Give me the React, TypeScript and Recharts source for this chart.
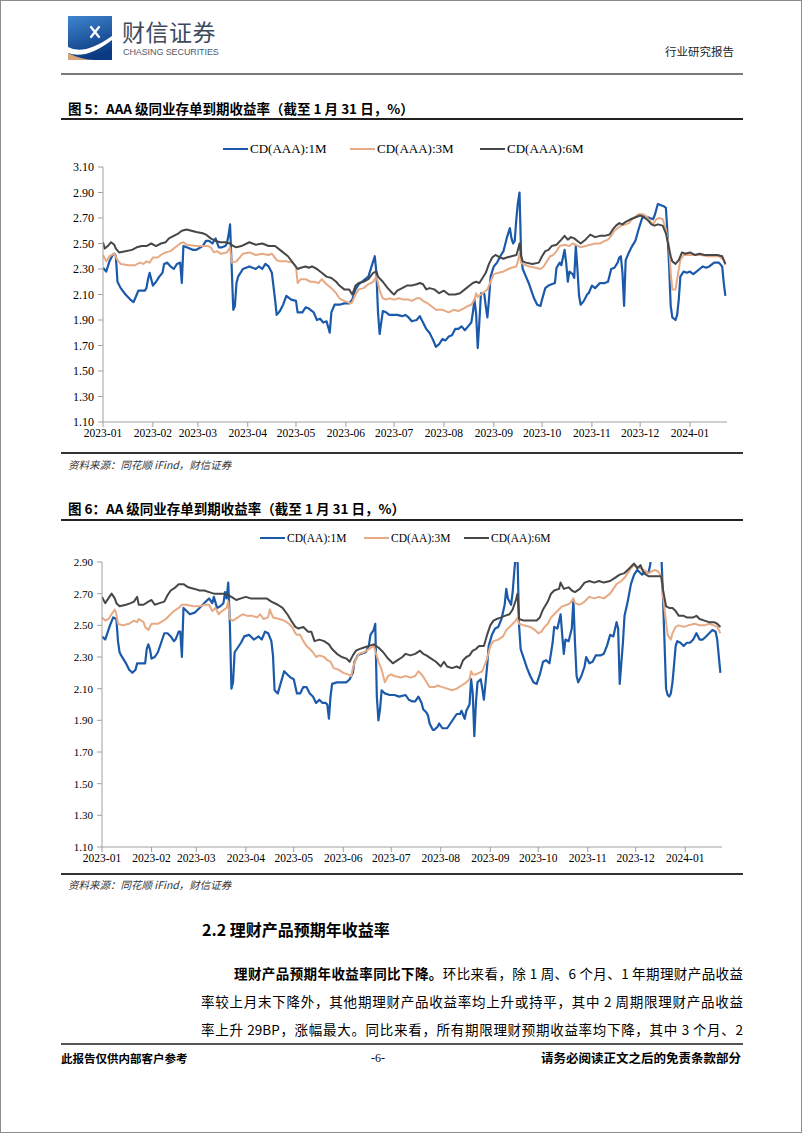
import React from 'react';
import { LineChart, Line, XAxis, YAxis } from 'recharts';

// ---------- axis data ----------
const MONTH_TICKS = [0, 31, 59, 90, 120, 151, 181, 212, 243, 273, 304, 334, 365];
const MONTH_LABELS = ['2023-01', '2023-02', '2023-03', '2023-04', '2023-05', '2023-06', '2023-07', '2023-08', '2023-09', '2023-10', '2023-11', '2023-12', '2024-01'];
const Y_TICKS_AAA = [1.1, 1.3, 1.5, 1.7, 1.9, 2.1, 2.3, 2.5, 2.7, 2.9, 3.1];
const Y_TICKS_AA = [1.1, 1.3, 1.5, 1.7, 1.9, 2.1, 2.3, 2.5, 2.7, 2.9];

// ---------- series: [day offset from 2023-01-01, yield %] ----------
const AAA_1M: [number, number][] = [
  [0, 2.31], [2, 2.28], [4, 2.36], [6, 2.41], [7, 2.42], [8, 2.40], [9, 2.20], [11, 2.15], [14, 2.10], [17, 2.06], [19, 2.04], [21, 2.10], [22, 2.13], [26, 2.13], [27, 2.15], [28, 2.22], [29, 2.27], [30, 2.22], [31, 2.17], [33, 2.20], [35, 2.24], [37, 2.27], [38, 2.34], [40, 2.35], [42, 2.32], [44, 2.30], [46, 2.34], [48, 2.35], [49, 2.19], [50, 2.48], [52, 2.47], [56, 2.45], [58, 2.45], [62, 2.48], [64, 2.52], [66, 2.52], [68, 2.50], [70, 2.54], [72, 2.47], [74, 2.47], [76, 2.48], [77, 2.50], [78, 2.56], [79, 2.65], [80, 2.32], [81, 1.98], [82, 2.01], [83, 2.19], [84, 2.24], [87, 2.30], [91, 2.32], [95, 2.30], [97, 2.32], [99, 2.30], [101, 2.34], [103, 2.32], [105, 2.27], [107, 2.06], [108, 1.94], [110, 1.97], [112, 2.02], [114, 2.09], [117, 2.06], [120, 2.05], [121, 1.96], [124, 1.96], [126, 2.00], [128, 1.99], [131, 1.96], [133, 1.90], [135, 1.91], [137, 1.88], [139, 1.89], [141, 1.80], [142, 1.96], [144, 2.02], [147, 2.02], [150, 2.03], [153, 2.03], [155, 2.06], [157, 2.14], [159, 2.18], [161, 2.20], [163, 2.22], [165, 2.24], [167, 2.32], [168, 2.36], [169, 2.40], [170, 2.27], [171, 1.96], [172, 1.79], [173, 1.88], [174, 1.97], [176, 1.96], [178, 1.94], [180, 1.94], [183, 1.94], [186, 1.93], [188, 1.94], [190, 1.92], [192, 1.89], [195, 1.90], [197, 1.93], [199, 1.88], [201, 1.83], [203, 1.80], [205, 1.75], [207, 1.69], [209, 1.71], [211, 1.75], [213, 1.74], [215, 1.77], [217, 1.78], [219, 1.83], [221, 1.83], [223, 1.85], [225, 1.82], [227, 1.85], [229, 1.88], [230, 1.96], [231, 2.06], [232, 1.95], [233, 1.68], [234, 1.88], [235, 2.11], [237, 2.11], [238, 2.01], [239, 1.92], [240, 2.06], [241, 2.24], [243, 2.32], [245, 2.35], [247, 2.40], [249, 2.44], [251, 2.54], [253, 2.62], [254, 2.54], [255, 2.50], [256, 2.52], [257, 2.69], [258, 2.82], [259, 2.90], [260, 2.40], [261, 2.30], [262, 2.27], [265, 2.18], [268, 2.07], [270, 2.02], [272, 2.01], [273, 2.06], [275, 2.15], [277, 2.17], [279, 2.18], [281, 2.19], [282, 2.31], [284, 2.35], [285, 2.33], [287, 2.45], [288, 2.35], [289, 2.20], [290, 2.28], [292, 2.26], [293, 2.23], [294, 2.48], [295, 2.30], [296, 2.09], [297, 2.02], [299, 2.05], [301, 2.10], [302, 2.11], [304, 2.17], [306, 2.15], [309, 2.19], [312, 2.19], [314, 2.20], [316, 2.30], [318, 2.31], [320, 2.35], [321, 2.39], [322, 2.40], [323, 2.27], [324, 2.01], [325, 2.37], [327, 2.43], [329, 2.48], [331, 2.52], [333, 2.61], [335, 2.69], [336, 2.72], [338, 2.71], [340, 2.70], [342, 2.69], [343, 2.72], [345, 2.81], [347, 2.80], [349, 2.79], [350, 2.78], [351, 2.58], [352, 2.32], [353, 2.01], [354, 1.92], [356, 1.90], [357, 1.94], [358, 2.06], [359, 2.24], [361, 2.28], [363, 2.27], [365, 2.28], [367, 2.26], [369, 2.28], [371, 2.30], [373, 2.32], [375, 2.31], [377, 2.32], [380, 2.35], [383, 2.35], [385, 2.32], [386, 2.19], [387, 2.09],
];
const AAA_3M: [number, number][] = [
  [0, 2.41], [2, 2.36], [4, 2.40], [7, 2.42], [9, 2.37], [11, 2.34], [16, 2.33], [20, 2.33], [23, 2.35], [25, 2.34], [27, 2.36], [29, 2.35], [31, 2.39], [34, 2.39], [36, 2.41], [39, 2.43], [42, 2.44], [45, 2.47], [48, 2.50], [50, 2.51], [52, 2.49], [58, 2.48], [62, 2.48], [65, 2.48], [67, 2.47], [69, 2.43], [71, 2.44], [73, 2.42], [77, 2.43], [79, 2.47], [80, 2.35], [83, 2.36], [87, 2.42], [91, 2.43], [95, 2.41], [99, 2.42], [103, 2.41], [105, 2.42], [108, 2.37], [110, 2.36], [114, 2.36], [118, 2.35], [120, 2.32], [121, 2.19], [123, 2.22], [126, 2.22], [129, 2.20], [131, 2.20], [134, 2.19], [136, 2.22], [139, 2.18], [142, 2.15], [145, 2.11], [147, 2.07], [150, 2.05], [154, 2.03], [155, 2.04], [157, 2.10], [159, 2.14], [162, 2.15], [165, 2.18], [168, 2.20], [170, 2.24], [171, 2.19], [172, 2.13], [174, 2.07], [176, 2.06], [178, 2.07], [181, 2.06], [184, 2.07], [187, 2.06], [190, 2.06], [192, 2.05], [195, 2.07], [197, 2.07], [199, 2.05], [202, 2.03], [204, 2.01], [207, 1.98], [211, 1.98], [213, 1.97], [215, 1.96], [218, 1.98], [221, 1.97], [224, 1.99], [227, 2.01], [229, 2.02], [231, 2.06], [232, 2.11], [233, 2.08], [235, 2.10], [238, 2.13], [239, 2.14], [241, 2.20], [243, 2.26], [246, 2.27], [249, 2.28], [252, 2.30], [254, 2.31], [257, 2.32], [258, 2.36], [259, 2.42], [260, 2.35], [261, 2.34], [265, 2.32], [269, 2.31], [272, 2.30], [274, 2.32], [276, 2.36], [278, 2.40], [280, 2.41], [282, 2.44], [284, 2.48], [287, 2.49], [290, 2.48], [292, 2.50], [294, 2.49], [297, 2.47], [300, 2.48], [303, 2.49], [306, 2.50], [309, 2.50], [312, 2.52], [314, 2.53], [316, 2.56], [318, 2.60], [320, 2.62], [322, 2.64], [325, 2.65], [327, 2.66], [329, 2.69], [331, 2.71], [333, 2.73], [336, 2.73], [338, 2.71], [340, 2.68], [342, 2.65], [344, 2.69], [346, 2.70], [348, 2.69], [350, 2.61], [352, 2.48], [353, 2.27], [354, 2.14], [356, 2.14], [357, 2.22], [359, 2.37], [361, 2.41], [364, 2.41], [368, 2.41], [372, 2.41], [376, 2.40], [380, 2.40], [383, 2.40], [385, 2.38], [386, 2.37], [387, 2.33],
];
const AAA_6M: [number, number][] = [
  [0, 2.51], [1, 2.46], [3, 2.48], [5, 2.51], [7, 2.49], [8, 2.46], [10, 2.43], [14, 2.44], [18, 2.45], [21, 2.47], [24, 2.48], [27, 2.48], [30, 2.50], [33, 2.48], [36, 2.50], [39, 2.51], [41, 2.54], [44, 2.56], [47, 2.58], [49, 2.60], [52, 2.61], [55, 2.60], [58, 2.59], [62, 2.58], [64, 2.57], [67, 2.54], [70, 2.52], [73, 2.51], [76, 2.51], [79, 2.50], [81, 2.48], [83, 2.47], [86, 2.48], [91, 2.51], [95, 2.49], [99, 2.50], [103, 2.48], [107, 2.48], [111, 2.44], [115, 2.40], [118, 2.35], [121, 2.30], [123, 2.31], [126, 2.32], [128, 2.31], [130, 2.32], [133, 2.30], [136, 2.27], [139, 2.24], [142, 2.23], [145, 2.20], [147, 2.17], [150, 2.14], [153, 2.14], [155, 2.10], [157, 2.17], [159, 2.19], [162, 2.20], [165, 2.22], [168, 2.27], [170, 2.28], [171, 2.24], [174, 2.20], [177, 2.15], [180, 2.11], [181, 2.10], [183, 2.13], [186, 2.15], [189, 2.17], [192, 2.17], [195, 2.18], [197, 2.19], [199, 2.18], [201, 2.14], [203, 2.15], [206, 2.14], [209, 2.11], [212, 2.13], [215, 2.10], [219, 2.10], [222, 2.11], [225, 2.14], [228, 2.17], [230, 2.19], [232, 2.20], [234, 2.19], [236, 2.23], [238, 2.27], [240, 2.34], [242, 2.39], [244, 2.41], [247, 2.39], [249, 2.38], [251, 2.39], [254, 2.40], [257, 2.41], [258, 2.45], [259, 2.50], [260, 2.40], [261, 2.36], [263, 2.35], [267, 2.34], [271, 2.35], [273, 2.40], [275, 2.44], [277, 2.45], [279, 2.48], [282, 2.49], [285, 2.53], [287, 2.56], [289, 2.53], [291, 2.55], [293, 2.54], [296, 2.51], [297, 2.50], [300, 2.53], [303, 2.57], [306, 2.55], [309, 2.56], [312, 2.56], [315, 2.57], [317, 2.61], [319, 2.64], [321, 2.66], [323, 2.65], [325, 2.67], [328, 2.69], [330, 2.70], [332, 2.71], [334, 2.72], [337, 2.70], [339, 2.68], [341, 2.65], [343, 2.64], [345, 2.65], [348, 2.64], [350, 2.58], [352, 2.46], [353, 2.40], [354, 2.36], [356, 2.34], [358, 2.37], [360, 2.43], [362, 2.42], [365, 2.43], [368, 2.41], [371, 2.42], [374, 2.41], [378, 2.41], [382, 2.41], [385, 2.40], [386, 2.37], [387, 2.34],
];

const AA_1M: [number, number][] = [
  [0, 2.43], [2, 2.41], [3, 2.44], [5, 2.50], [7, 2.55], [9, 2.54], [10, 2.40], [11, 2.33], [12, 2.31], [15, 2.26], [17, 2.22], [19, 2.20], [21, 2.22], [22, 2.26], [24, 2.26], [27, 2.26], [28, 2.35], [29, 2.38], [30, 2.35], [31, 2.29], [33, 2.30], [35, 2.33], [37, 2.39], [39, 2.45], [41, 2.45], [43, 2.43], [45, 2.40], [46, 2.41], [48, 2.46], [49, 2.46], [50, 2.30], [51, 2.61], [52, 2.60], [55, 2.57], [58, 2.58], [61, 2.61], [63, 2.63], [65, 2.65], [67, 2.67], [69, 2.64], [70, 2.68], [72, 2.61], [74, 2.62], [76, 2.64], [77, 2.71], [78, 2.67], [79, 2.77], [80, 2.52], [81, 2.10], [82, 2.14], [83, 2.33], [85, 2.36], [87, 2.39], [89, 2.43], [92, 2.44], [95, 2.41], [98, 2.43], [100, 2.41], [102, 2.46], [104, 2.45], [106, 2.40], [107, 2.31], [108, 2.09], [110, 2.07], [112, 2.14], [114, 2.21], [116, 2.19], [118, 2.17], [120, 2.16], [122, 2.07], [124, 2.07], [126, 2.11], [128, 2.11], [130, 2.07], [132, 2.05], [134, 2.01], [136, 2.03], [138, 2.01], [140, 2.01], [141, 2.00], [142, 1.91], [143, 2.05], [144, 2.13], [147, 2.14], [150, 2.14], [153, 2.14], [155, 2.16], [157, 2.20], [158, 2.27], [160, 2.31], [162, 2.32], [165, 2.33], [167, 2.37], [168, 2.44], [170, 2.47], [171, 2.51], [172, 2.05], [173, 1.90], [174, 1.97], [175, 2.09], [177, 2.07], [180, 2.06], [183, 2.06], [186, 2.05], [190, 2.06], [192, 2.03], [194, 2.02], [196, 2.02], [198, 2.05], [200, 2.01], [201, 1.97], [203, 1.95], [204, 1.93], [205, 1.88], [207, 1.84], [208, 1.84], [210, 1.86], [211, 1.88], [213, 1.85], [216, 1.85], [218, 1.88], [220, 1.91], [222, 1.94], [224, 1.94], [225, 1.96], [227, 1.91], [228, 1.96], [230, 2.00], [231, 2.16], [232, 2.07], [233, 1.80], [234, 2.01], [235, 2.14], [237, 2.16], [238, 2.10], [239, 2.03], [241, 2.24], [242, 2.37], [244, 2.44], [246, 2.48], [248, 2.49], [250, 2.54], [252, 2.63], [253, 2.73], [254, 2.67], [256, 2.63], [257, 2.71], [258, 2.84], [259, 2.95], [260, 2.95], [261, 2.50], [262, 2.35], [264, 2.29], [266, 2.23], [268, 2.18], [270, 2.14], [272, 2.13], [274, 2.19], [276, 2.27], [278, 2.28], [280, 2.26], [282, 2.39], [283, 2.49], [285, 2.48], [287, 2.57], [288, 2.44], [289, 2.32], [290, 2.41], [292, 2.40], [294, 2.48], [295, 2.66], [296, 2.39], [297, 2.18], [298, 2.14], [300, 2.18], [302, 2.24], [303, 2.30], [305, 2.26], [307, 2.27], [309, 2.31], [312, 2.31], [314, 2.32], [316, 2.37], [318, 2.44], [320, 2.43], [322, 2.52], [323, 2.48], [324, 2.13], [326, 2.39], [327, 2.56], [329, 2.65], [331, 2.76], [333, 2.82], [335, 2.85], [336, 2.84], [338, 2.82], [340, 2.84], [342, 2.83], [343, 2.88], [344, 2.95], [346, 3.00], [348, 3.00], [350, 2.96], [351, 2.70], [352, 2.40], [353, 2.10], [354, 2.06], [355, 2.05], [356, 2.07], [357, 2.14], [358, 2.25], [359, 2.37], [360, 2.40], [362, 2.39], [364, 2.37], [366, 2.39], [368, 2.39], [370, 2.41], [372, 2.45], [374, 2.41], [376, 2.41], [378, 2.43], [380, 2.45], [382, 2.47], [384, 2.46], [385, 2.41], [387, 2.20],
];
const AA_3M: [number, number][] = [
  [0, 2.55], [2, 2.53], [4, 2.54], [6, 2.57], [8, 2.60], [9, 2.57], [10, 2.51], [13, 2.50], [17, 2.51], [20, 2.53], [22, 2.52], [23, 2.54], [26, 2.52], [27, 2.49], [29, 2.47], [31, 2.51], [35, 2.51], [37, 2.52], [40, 2.54], [42, 2.56], [45, 2.59], [48, 2.61], [50, 2.63], [53, 2.63], [57, 2.62], [61, 2.62], [64, 2.63], [67, 2.63], [69, 2.59], [71, 2.61], [73, 2.57], [75, 2.59], [78, 2.61], [79, 2.65], [80, 2.54], [82, 2.53], [85, 2.55], [88, 2.57], [91, 2.56], [94, 2.56], [97, 2.55], [99, 2.57], [101, 2.54], [104, 2.55], [105, 2.60], [107, 2.55], [111, 2.54], [114, 2.53], [117, 2.51], [119, 2.49], [121, 2.45], [122, 2.44], [124, 2.44], [126, 2.40], [128, 2.37], [130, 2.35], [132, 2.33], [134, 2.30], [136, 2.31], [139, 2.30], [141, 2.28], [143, 2.27], [145, 2.23], [148, 2.22], [151, 2.20], [154, 2.19], [156, 2.18], [157, 2.23], [159, 2.29], [161, 2.32], [164, 2.33], [167, 2.35], [170, 2.37], [171, 2.34], [173, 2.27], [175, 2.22], [177, 2.14], [179, 2.18], [181, 2.19], [183, 2.18], [187, 2.17], [190, 2.18], [193, 2.17], [196, 2.18], [198, 2.21], [200, 2.19], [202, 2.16], [205, 2.11], [208, 2.11], [210, 2.12], [213, 2.11], [216, 2.10], [219, 2.09], [222, 2.10], [225, 2.12], [228, 2.14], [230, 2.16], [231, 2.21], [232, 2.19], [234, 2.19], [236, 2.20], [238, 2.21], [241, 2.29], [243, 2.37], [245, 2.40], [248, 2.41], [251, 2.43], [253, 2.47], [255, 2.49], [258, 2.52], [259, 2.53], [260, 2.55], [261, 2.51], [264, 2.50], [268, 2.49], [271, 2.47], [273, 2.45], [275, 2.46], [277, 2.49], [279, 2.51], [281, 2.55], [283, 2.57], [285, 2.59], [288, 2.62], [291, 2.63], [293, 2.64], [295, 2.67], [296, 2.64], [299, 2.63], [302, 2.65], [305, 2.68], [308, 2.67], [311, 2.68], [314, 2.67], [318, 2.70], [320, 2.73], [322, 2.76], [325, 2.78], [327, 2.80], [329, 2.83], [331, 2.86], [333, 2.88], [335, 2.87], [337, 2.86], [339, 2.85], [342, 2.83], [344, 2.84], [346, 2.85], [348, 2.84], [350, 2.81], [351, 2.69], [353, 2.52], [354, 2.44], [356, 2.41], [357, 2.45], [359, 2.49], [361, 2.50], [364, 2.49], [367, 2.50], [371, 2.51], [374, 2.50], [377, 2.50], [380, 2.51], [383, 2.50], [385, 2.49], [387, 2.45],
];
const AA_6M: [number, number][] = [
  [0, 2.68], [2, 2.64], [4, 2.67], [6, 2.70], [8, 2.67], [9, 2.64], [11, 2.62], [15, 2.63], [18, 2.64], [20, 2.65], [22, 2.68], [23, 2.63], [26, 2.63], [29, 2.65], [31, 2.66], [33, 2.63], [36, 2.64], [39, 2.65], [41, 2.69], [43, 2.72], [46, 2.74], [48, 2.76], [51, 2.76], [54, 2.74], [58, 2.73], [61, 2.72], [64, 2.72], [67, 2.71], [70, 2.70], [73, 2.70], [76, 2.70], [79, 2.69], [81, 2.68], [84, 2.66], [87, 2.67], [90, 2.68], [93, 2.67], [96, 2.67], [99, 2.67], [103, 2.67], [106, 2.65], [110, 2.63], [113, 2.61], [116, 2.57], [119, 2.52], [121, 2.49], [123, 2.48], [126, 2.49], [129, 2.46], [131, 2.46], [133, 2.40], [136, 2.41], [139, 2.40], [142, 2.38], [144, 2.35], [147, 2.32], [150, 2.30], [153, 2.29], [155, 2.27], [157, 2.31], [159, 2.34], [161, 2.35], [164, 2.36], [167, 2.37], [170, 2.38], [173, 2.36], [176, 2.33], [179, 2.29], [182, 2.26], [185, 2.28], [188, 2.30], [190, 2.32], [193, 2.31], [196, 2.32], [199, 2.34], [201, 2.32], [203, 2.31], [206, 2.29], [209, 2.27], [212, 2.24], [214, 2.27], [216, 2.24], [219, 2.23], [222, 2.24], [224, 2.23], [226, 2.28], [228, 2.30], [230, 2.31], [232, 2.34], [234, 2.35], [236, 2.37], [239, 2.37], [241, 2.44], [243, 2.50], [245, 2.53], [247, 2.54], [250, 2.55], [252, 2.56], [255, 2.57], [257, 2.60], [259, 2.66], [260, 2.70], [261, 2.54], [264, 2.53], [268, 2.53], [272, 2.53], [274, 2.55], [276, 2.60], [279, 2.65], [281, 2.70], [283, 2.72], [286, 2.73], [287, 2.77], [289, 2.73], [292, 2.74], [294, 2.72], [296, 2.71], [299, 2.73], [302, 2.77], [305, 2.78], [308, 2.77], [311, 2.78], [314, 2.77], [318, 2.78], [321, 2.80], [324, 2.82], [327, 2.83], [329, 2.85], [331, 2.87], [333, 2.89], [335, 2.86], [337, 2.88], [339, 2.83], [342, 2.81], [344, 2.81], [347, 2.81], [350, 2.81], [351, 2.73], [353, 2.62], [355, 2.61], [357, 2.61], [359, 2.59], [361, 2.56], [364, 2.56], [366, 2.55], [370, 2.55], [372, 2.56], [374, 2.54], [377, 2.53], [380, 2.52], [383, 2.52], [385, 2.51], [387, 2.49],
];

const SERIES_NAMES_AAA = ['CD(AAA):1M', 'CD(AAA):3M', 'CD(AAA):6M'];
const SERIES_NAMES_AA = ['CD(AA):1M', 'CD(AA):3M', 'CD(AA):6M'];
const COLORS = ['#1B5AAA', '#E6AB84', '#474747'];
const WIDTHS = [2.2, 2, 2];

const SERIF = '"Liberation Serif", "Times New Roman", serif';
const CJK = '"Noto Sans CJK SC", "Noto Sans", sans-serif';

const rows = (s: [number, number][]) => s.map(([d, v]) => ({ d, v }));

type ChartProps = {
  top: number;
  height: number;
  marginTop: number;
  marginRight: number;
  yWidth: number;
  yDomain: [number, number];
  yTicks: number[];
  data: [number, number][][];
  tickFont: number;
  yTickFont: number;
};

function CdChart(p: ChartProps) {
  return (
    <div style={{ position: 'absolute', left: 0, top: p.top }}>
      <LineChart width={802} height={p.height} margin={{ top: p.marginTop, right: p.marginRight, left: 0, bottom: 0 }}>
        <XAxis
          type="number"
          dataKey="d"
          domain={[0, 388]}
          ticks={MONTH_TICKS}
          interval={0}
          allowDataOverflow
          height={30}
          tickFormatter={(d: number) => MONTH_LABELS[MONTH_TICKS.indexOf(d)]}
          axisLine={{ stroke: '#a0a0a0' }}
          tickLine={{ stroke: '#a0a0a0' }}
          tickSize={5}
          tickMargin={2}
          tick={{ fill: '#000', fontSize: p.tickFont, fontFamily: SERIF }}
        />
        <YAxis
          type="number"
          domain={p.yDomain}
          ticks={p.yTicks}
          interval={0}
          allowDataOverflow
          width={p.yWidth}
          tickFormatter={(v: number) => v.toFixed(2)}
          axisLine={{ stroke: '#a0a0a0' }}
          tickLine={{ stroke: '#a0a0a0' }}
          tickSize={5}
          tickMargin={4}
          tick={{ fill: '#000', fontSize: p.yTickFont, fontFamily: SERIF }}
        />
        {p.data.map((s, i) => (
          <Line
            key={i}
            data={rows(s)}
            dataKey="v"
            type="linear"
            stroke={COLORS[i]}
            strokeWidth={WIDTHS[i]}
            strokeLinejoin="round"
            dot={false}
            activeDot={false}
            isAnimationActive={false}
          />
        ))}
      </LineChart>
    </div>
  );
}

function LegendRow({ y, xs, names, font }: { y: number; xs: number[]; names: string[]; font: number }) {
  return (
    <>
      {names.map((n, i) => (
        <div key={n} style={{ position: 'absolute', left: xs[i], top: y - 10, height: 20, display: 'flex', alignItems: 'center', whiteSpace: 'nowrap' }}>
          <div style={{ width: 25, height: 2.5, background: COLORS[i] }} />
          <span style={{ marginLeft: 2, fontFamily: SERIF, fontSize: font, color: '#000' }}>{n}</span>
        </div>
      ))}
    </>
  );
}

function Txt({ x, y, size, lh = 1.5, children, style }: { x: number; y: number; size: number; lh?: number; children: React.ReactNode; style?: React.CSSProperties }) {
  const h = Math.round(size * lh);
  return (
    <div style={{ position: 'absolute', left: x, top: y - h / 2, height: h, lineHeight: h + 'px', fontSize: size, whiteSpace: 'nowrap', ...style }}>
      {children}
    </div>
  );
}

function Rule({ y, x1 = 60, x2 = 742, w = 1.5, c = '#222' }: { y: number; x1?: number; x2?: number; w?: number; c?: string }) {
  return <div style={{ position: 'absolute', left: x1, width: x2 - x1, top: y - w / 2, height: w, background: c }} />;
}

function Logo() {
  return (
    <svg style={{ position: 'absolute', left: 67, top: 15 }} width={44} height={44} viewBox="0 0 44 44">
      <defs>
        <linearGradient id="lg" x1="0" y1="0" x2="0.3" y2="1">
          <stop offset="0" stopColor="#3F86CF" />
          <stop offset="1" stopColor="#0C3A82" />
        </linearGradient>
      </defs>
      <rect x={0} y={0} width={44} height={44} fill="url(#lg)" />
      <path d="M0,31 Q16,40 44,20 L44,24 Q18,44 0,37 Z" fill="#ffffff" />
      <path d="M0,37 Q14,44 26,44 L0,44 Z" fill="#D8A57B" />
      <path d="M23,11 L31,21 M31,11 L23,21" stroke="#ffffff" strokeWidth={2.2} strokeLinecap="round" />
    </svg>
  );
}

export default function App() {
  return (
    <div style={{ position: 'relative', width: 802, height: 1133, boxSizing: 'border-box', border: '1px solid #8c8c8c', background: '#fff', overflow: 'hidden', fontFamily: CJK, color: '#000' }}>
      <style>{'body{margin:0;}'}</style>

      {/* header */}
      <Logo />
      <Txt x={121} y={30} size={23} lh={1.15} style={{ color: '#3C4A5E', letterSpacing: 0.5 }}>财信证券</Txt>
      <Txt x={122} y={51} size={9} lh={1.2} style={{ color: '#4E5C70', fontFamily: '"Liberation Sans", Arial, sans-serif', letterSpacing: -0.1 }}>CHASING SECURITIES</Txt>
      <Txt x={664} y={50} size={11.5} style={{ color: '#222' }}>行业研究报告</Txt>
      <Rule y={73} w={2.5} c="#7a7a7a" />

      {/* figure 5 */}
      <Txt x={67} y={107} size={13.5} style={{ fontWeight: 700 }}>图 5：AAA 级同业存单到期收益率（截至 1 月 31 日，%）</Txt>
      <Rule y={118} />
      <LegendRow y={148} xs={[222, 349, 479]} names={SERIES_NAMES_AAA} font={13} />
      <CdChart
        top={140}
        height={311}
        marginTop={26}
        marginRight={76}
        yWidth={102}
        yDomain={[1.1, 3.1]}
        yTicks={Y_TICKS_AAA}
        data={[AAA_1M, AAA_3M, AAA_6M]}
        tickFont={11.5}
        yTickFont={12}
      />
      <Rule y={452} c="#333" />
      <Txt x={67} y={464} size={10.5} style={{ fontStyle: 'italic', color: '#333' }}>资料来源：同花顺 iFind，财信证券</Txt>

      {/* figure 6 */}
      <Txt x={67} y={507} size={13.5} style={{ fontWeight: 700 }}>图 6：AA 级同业存单到期收益率（截至 1 月 31 日，%）</Txt>
      <Rule y={519} />
      <LegendRow y={537} xs={[259, 363, 463]} names={SERIES_NAMES_AA} font={11.5} />
      <CdChart
        top={540}
        height={336}
        marginTop={21}
        marginRight={81}
        yWidth={101}
        yDomain={[1.1, 2.9]}
        yTicks={Y_TICKS_AA}
        data={[AA_1M, AA_3M, AA_6M]}
        tickFont={11.5}
        yTickFont={11}
      />
      <Rule y={873} c="#333" />
      <Txt x={67} y={884} size={10.5} style={{ fontStyle: 'italic', color: '#333' }}>资料来源：同花顺 iFind，财信证券</Txt>

      {/* section text */}
      <Txt x={201} y={928} size={16} style={{ fontWeight: 700 }}>2.2 理财产品预期年收益率</Txt>
      {[
        { x: 233, y: 972, body: <><b>理财产品预期年收益率同比下降。</b>环比来看，除 1 周、6 个月、1 年期理财产品收益</> },
        { x: 200, y: 1000, body: <>率较上月末下降外，其他期理财产品收益率均上升或持平，其中 2 周期限理财产品收益</> },
        { x: 200, y: 1028, body: <>率上升 29BP，涨幅最大。同比来看，所有期限理财预期收益率均下降，其中 3 个月、2</> },
      ].map((l, i) => (
        <div key={i} style={{ position: 'absolute', left: l.x, width: 742 - l.x, top: l.y - 11, height: 22, lineHeight: '22px', fontSize: 13.5, textAlign: 'justify', textAlignLast: 'justify', overflow: 'hidden' }}>
          {l.body}
        </div>
      ))}

      {/* footer */}
      <Rule y={1043} w={2} c="#555" />
      <Txt x={60} y={1057} size={11.5} style={{ fontWeight: 700 }}>此报告仅供内部客户参考</Txt>
      <Txt x={370} y={1057} size={12} style={{ fontFamily: SERIF }}>-6-</Txt>
      <div style={{ position: 'absolute', right: 802 - 742, top: 1057 - 9, height: 18, lineHeight: '18px', fontSize: 12.5, fontWeight: 700, whiteSpace: 'nowrap' }}>请务必阅读正文之后的免责条款部分</div>
    </div>
  );
}
